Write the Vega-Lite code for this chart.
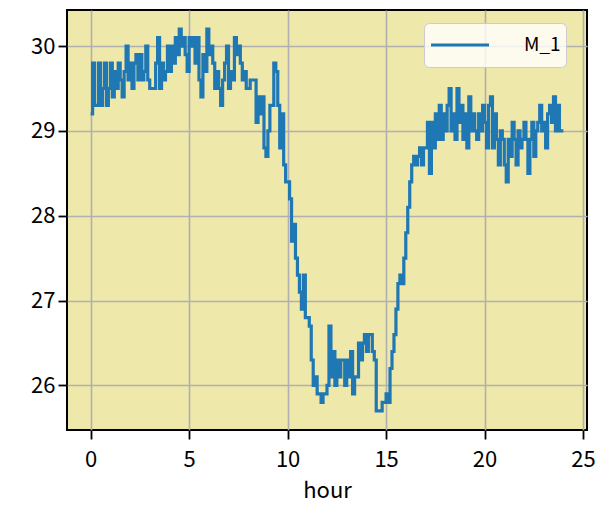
{
  "$schema": "https://vega.github.io/schema/vega-lite/v6.json",
  "width": 520,
  "height": 420,
  "autosize": {"type": "none"},
  "padding": {"left": 67, "top": 10, "right": 16, "bottom": 90},
  "background": "white",
  "config": {
    "view": {"fill": "#eee8aa", "stroke": "black", "strokeWidth": 2},
    "font": "Noto Sans CJK JP",
    "axis": {
      "grid": true, "gridColor": "#b0b0b0", "gridWidth": 1.6,
      "domain": false, "tickColor": "black", "tickWidth": 1.8, "tickSize": 9,
      "labelFontSize": 22, "labelColor": "black", "titleFontSize": 22,
      "titleColor": "black", "titleFontWeight": "normal", "labelPadding": 3
    }
  },
  "data": {"values": [
    {"hour":0.0,"v":29.2},{"hour":0.1,"v":29.8},{"hour":0.2,"v":29.3},{"hour":0.3,"v":29.3},{"hour":0.4,"v":29.8},{"hour":0.5,"v":29.3},{"hour":0.6,"v":29.5},{"hour":0.7,"v":29.8},{"hour":0.8,"v":29.3},{"hour":0.9,"v":29.5},
    {"hour":1.0,"v":29.8},{"hour":1.1,"v":29.4},{"hour":1.2,"v":29.7},{"hour":1.3,"v":29.5},{"hour":1.4,"v":29.8},{"hour":1.5,"v":29.6},{"hour":1.6,"v":29.4},{"hour":1.7,"v":29.7},{"hour":1.8,"v":30.0},{"hour":1.9,"v":29.6},
    {"hour":2.0,"v":29.8},{"hour":2.1,"v":29.5},{"hour":2.2,"v":29.8},{"hour":2.3,"v":29.9},{"hour":2.4,"v":29.6},{"hour":2.5,"v":29.9},{"hour":2.6,"v":29.6},{"hour":2.7,"v":29.7},{"hour":2.8,"v":30.0},{"hour":2.9,"v":29.6},
    {"hour":3.0,"v":29.5},{"hour":3.1,"v":29.5},{"hour":3.2,"v":29.5},{"hour":3.3,"v":29.8},{"hour":3.4,"v":30.1},{"hour":3.5,"v":29.5},{"hour":3.6,"v":29.8},{"hour":3.7,"v":29.6},{"hour":3.8,"v":29.7},{"hour":3.9,"v":30.0},
    {"hour":4.0,"v":29.7},{"hour":4.1,"v":30.0},{"hour":4.2,"v":29.8},{"hour":4.3,"v":30.1},{"hour":4.4,"v":29.9},{"hour":4.5,"v":30.2},{"hour":4.6,"v":30.0},{"hour":4.7,"v":30.1},{"hour":4.8,"v":29.9},{"hour":4.9,"v":29.7},
    {"hour":5.0,"v":30.1},{"hour":5.1,"v":30.0},{"hour":5.2,"v":30.1},{"hour":5.3,"v":29.8},{"hour":5.4,"v":30.1},{"hour":5.5,"v":29.6},{"hour":5.6,"v":29.4},{"hour":5.7,"v":29.9},{"hour":5.8,"v":29.7},{"hour":5.9,"v":30.2},
    {"hour":6.0,"v":29.9},{"hour":6.1,"v":30.0},{"hour":6.2,"v":29.8},{"hour":6.3,"v":29.5},{"hour":6.4,"v":29.7},{"hour":6.5,"v":29.5},{"hour":6.6,"v":29.3},{"hour":6.7,"v":29.6},{"hour":6.8,"v":29.8},{"hour":6.9,"v":30.0},
    {"hour":7.0,"v":29.5},{"hour":7.1,"v":29.7},{"hour":7.2,"v":29.6},{"hour":7.3,"v":30.1},{"hour":7.4,"v":29.9},{"hour":7.5,"v":30.0},{"hour":7.6,"v":29.8},{"hour":7.7,"v":29.6},{"hour":7.8,"v":29.7},{"hour":7.9,"v":29.5},
    {"hour":8.0,"v":29.5},{"hour":8.1,"v":29.6},{"hour":8.2,"v":29.6},{"hour":8.3,"v":29.6},{"hour":8.4,"v":29.1},{"hour":8.5,"v":29.4},{"hour":8.6,"v":29.2},{"hour":8.7,"v":29.4},{"hour":8.8,"v":28.8},{"hour":8.9,"v":28.7},
    {"hour":9.0,"v":29.0},{"hour":9.1,"v":29.3},{"hour":9.2,"v":29.3},{"hour":9.3,"v":29.8},{"hour":9.4,"v":29.7},{"hour":9.5,"v":29.3},{"hour":9.6,"v":28.8},{"hour":9.7,"v":29.2},{"hour":9.8,"v":28.6},{"hour":9.9,"v":28.4},
    {"hour":10.0,"v":28.4},{"hour":10.1,"v":28.2},{"hour":10.2,"v":27.7},{"hour":10.3,"v":27.9},{"hour":10.4,"v":27.5},{"hour":10.5,"v":27.3},{"hour":10.6,"v":27.1},{"hour":10.7,"v":26.9},{"hour":10.8,"v":27.3},{"hour":10.9,"v":26.8},
    {"hour":11.0,"v":26.8},{"hour":11.1,"v":26.7},{"hour":11.2,"v":26.3},{"hour":11.3,"v":26.0},{"hour":11.4,"v":26.1},{"hour":11.5,"v":25.9},{"hour":11.6,"v":25.9},{"hour":11.7,"v":25.8},{"hour":11.8,"v":25.9},{"hour":11.9,"v":25.9},
    {"hour":12.0,"v":26.0},{"hour":12.1,"v":26.7},{"hour":12.2,"v":26.1},{"hour":12.3,"v":26.4},{"hour":12.4,"v":26.0},{"hour":12.5,"v":26.3},{"hour":12.6,"v":26.1},{"hour":12.7,"v":26.3},{"hour":12.8,"v":26.3},{"hour":12.9,"v":26.0},
    {"hour":13.0,"v":26.3},{"hour":13.1,"v":26.1},{"hour":13.2,"v":26.4},{"hour":13.3,"v":25.9},{"hour":13.4,"v":26.1},{"hour":13.5,"v":26.1},{"hour":13.6,"v":26.5},{"hour":13.7,"v":26.3},{"hour":13.8,"v":26.5},{"hour":13.9,"v":26.6},
    {"hour":14.0,"v":26.4},{"hour":14.1,"v":26.6},{"hour":14.2,"v":26.6},{"hour":14.3,"v":26.4},{"hour":14.4,"v":26.3},{"hour":14.5,"v":25.7},{"hour":14.6,"v":25.7},{"hour":14.7,"v":25.7},{"hour":14.8,"v":25.8},{"hour":14.9,"v":25.8},
    {"hour":15.0,"v":25.9},{"hour":15.1,"v":25.8},{"hour":15.2,"v":26.2},{"hour":15.3,"v":26.4},{"hour":15.4,"v":26.6},{"hour":15.5,"v":26.9},{"hour":15.6,"v":27.2},{"hour":15.7,"v":27.3},{"hour":15.8,"v":27.2},{"hour":15.9,"v":27.5},
    {"hour":16.0,"v":27.8},{"hour":16.1,"v":28.1},{"hour":16.2,"v":28.4},{"hour":16.3,"v":28.6},{"hour":16.4,"v":28.7},{"hour":16.5,"v":28.6},{"hour":16.6,"v":28.7},{"hour":16.7,"v":28.8},{"hour":16.8,"v":28.6},{"hour":16.9,"v":28.8},
    {"hour":17.0,"v":28.8},{"hour":17.1,"v":29.1},{"hour":17.2,"v":28.5},{"hour":17.3,"v":29.1},{"hour":17.4,"v":28.8},{"hour":17.5,"v":29.2},{"hour":17.6,"v":28.9},{"hour":17.7,"v":29.3},{"hour":17.8,"v":28.9},{"hour":17.9,"v":29.2},
    {"hour":18.0,"v":29.0},{"hour":18.1,"v":29.3},{"hour":18.2,"v":29.5},{"hour":18.3,"v":29.0},{"hour":18.4,"v":29.2},{"hour":18.5,"v":28.9},{"hour":18.6,"v":29.5},{"hour":18.7,"v":29.1},{"hour":18.8,"v":29.3},{"hour":18.9,"v":28.9},
    {"hour":19.0,"v":29.2},{"hour":19.1,"v":28.8},{"hour":19.2,"v":29.4},{"hour":19.3,"v":29.0},{"hour":19.4,"v":29.2},{"hour":19.5,"v":29.0},{"hour":19.6,"v":28.9},{"hour":19.7,"v":29.2},{"hour":19.8,"v":29.0},{"hour":19.9,"v":29.3},
    {"hour":20.0,"v":29.1},{"hour":20.1,"v":28.8},{"hour":20.2,"v":29.3},{"hour":20.3,"v":29.4},{"hour":20.4,"v":28.8},{"hour":20.5,"v":29.2},{"hour":20.6,"v":28.9},{"hour":20.7,"v":28.6},{"hour":20.8,"v":29.0},{"hour":20.9,"v":28.9},
    {"hour":21.0,"v":28.6},{"hour":21.1,"v":28.4},{"hour":21.2,"v":28.9},{"hour":21.3,"v":28.7},{"hour":21.4,"v":29.1},{"hour":21.5,"v":28.9},{"hour":21.6,"v":28.6},{"hour":21.7,"v":29.0},{"hour":21.8,"v":28.8},{"hour":21.9,"v":28.9},
    {"hour":22.0,"v":29.1},{"hour":22.1,"v":28.9},{"hour":22.2,"v":28.5},{"hour":22.3,"v":28.9},{"hour":22.4,"v":29.1},{"hour":22.5,"v":28.7},{"hour":22.6,"v":29.0},{"hour":22.7,"v":29.1},{"hour":22.8,"v":29.3},{"hour":22.9,"v":29.0},
    {"hour":23.0,"v":29.1},{"hour":23.1,"v":28.8},{"hour":23.2,"v":29.2},{"hour":23.3,"v":29.3},{"hour":23.4,"v":29.1},{"hour":23.5,"v":29.4},{"hour":23.6,"v":29.0},{"hour":23.7,"v":29.3},{"hour":23.8,"v":29.0},{"hour":23.9,"v":29.0},
    {"hour":24.0,"v":29.0}
  ]},
  "mark": {"type": "line", "interpolate": "step-after", "strokeWidth": 3.2, "clip": true},
  "encoding": {
    "x": {
      "field": "hour", "type": "quantitative",
      "scale": {"domain": [-1.2, 25.2], "nice": false, "zero": false},
      "axis": {"values": [0, 5, 10, 15, 20, 25], "title": "hour", "labelPadding": 10, "titlePadding": 10}
    },
    "y": {
      "field": "v", "type": "quantitative",
      "scale": {"domain": [25.475, 30.425], "nice": false, "zero": false},
      "axis": {"values": [26, 27, 28, 29, 30], "title": null}
    },
    "color": {
      "datum": "M_1", "type": "nominal",
      "scale": {"range": ["#1f77b4"]},
      "legend": {
        "title": null, "orient": "none", "legendX": 357, "legendY": 13,
        "symbolType": "stroke", "symbolSize": 3364, "symbolStrokeWidth": 3.2,
        "labelFontSize": 19, "labelColor": "black", "labelOffset": 33,
        "clipHeight": 34,
        "padding": 5, "fillColor": "rgba(255,255,255,0.8)", "strokeColor": "#cccccc",
        "cornerRadius": 5
      }
    }
  }
}
